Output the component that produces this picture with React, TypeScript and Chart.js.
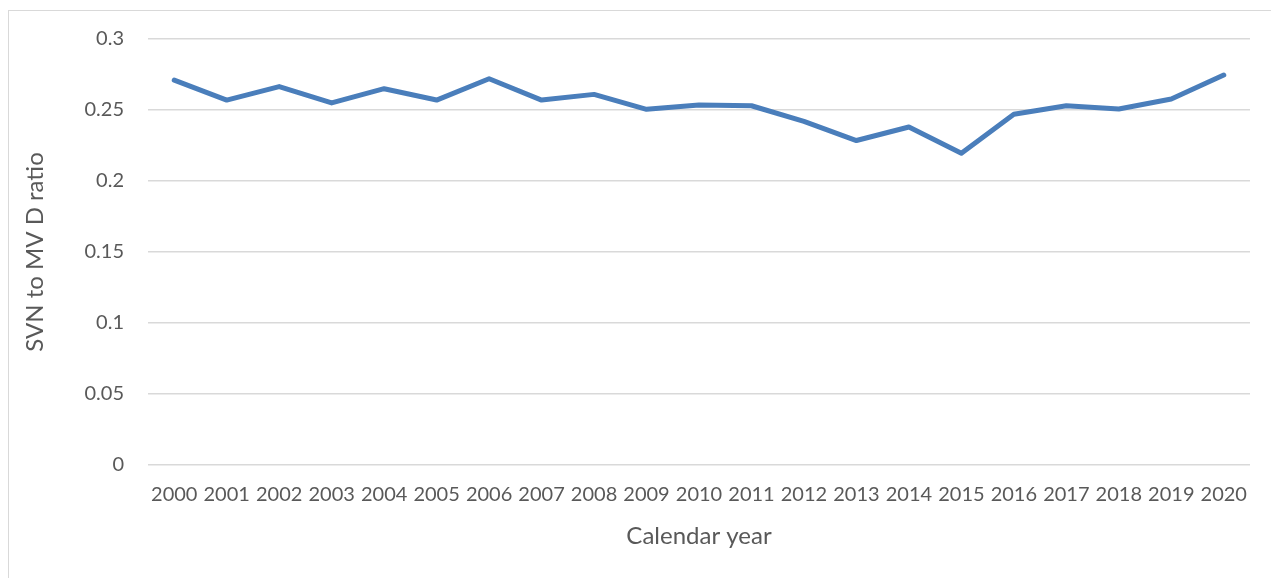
import React, { useEffect, useRef } from "react";
import { Chart, registerables } from "chart.js";

Chart.register(...registerables);

const years = [
  "2000", "2001", "2002", "2003", "2004", "2005", "2006", "2007", "2008", "2009", "2010",
  "2011", "2012", "2013", "2014", "2015", "2016", "2017", "2018", "2019", "2020",
];
const ratios = [
  0.271, 0.257, 0.2665, 0.255, 0.265, 0.257, 0.272, 0.257, 0.261, 0.2505, 0.2535,
  0.253, 0.242, 0.2285, 0.238, 0.2195, 0.247, 0.253, 0.2507, 0.2577, 0.2746,
];
const yTicks = [0, 0.05, 0.1, 0.15, 0.2, 0.25, 0.3];
const yTitle = "SVN to MV D ratio";
const xTitle = "Calendar year";

export default function App() {
  const ref = useRef<HTMLCanvasElement | null>(null);

  useEffect(() => {
    document.body.style.margin = "0";
    document.body.style.overflow = "hidden";
    const ctx = ref.current;
    if (!ctx) return;
    const font = "Lato, 'Open Sans', sans-serif";
    const chart = new Chart(ctx, {
      type: "line",
      data: {
        labels: years,
        datasets: [
          {
            data: ratios,
            borderColor: "#4a7ebb",
            borderWidth: 5,
            pointRadius: 0,
            tension: 0,
            fill: false,
            borderCapStyle: "round",
            borderJoinStyle: "round",
          },
        ],
      },
      options: {
        animation: false,
        responsive: false,
        maintainAspectRatio: false,
        layout: { padding: { top: 39, right: 21, left: 0, bottom: 0 } },
        plugins: { legend: { display: false }, tooltip: { enabled: false } },
        scales: {
          x: {
            offset: true,
            grid: { display: false, drawTicks: false },
            border: { display: false },
            ticks: {
              color: "#595959",
              font: { family: font, size: 20 },
              padding: 18,
              autoSkip: false,
              maxRotation: 0,
              minRotation: 0,
            },
            title: {
              display: true,
              text: xTitle,
              color: "#595959",
              font: { family: font, size: 24 },
              padding: { top: 0, bottom: 27 },
            },
            afterFit: (s: any) => {
              s.height = 113;
            },
          },
          y: {
            min: 0,
            max: 0.3,
            afterBuildTicks: (s: any) => {
              s.ticks = yTicks.map((v) => ({ value: v }));
            },
            grid: { color: "#d9d9d9", lineWidth: 1.5, drawTicks: false },
            border: { display: false },
            ticks: {
              color: "#595959",
              font: { family: font, size: 20 },
              padding: 24,
              callback: (v: any) => String(Number(v)),
            },
            title: {
              display: true,
              text: yTitle,
              color: "#595959",
              font: { family: font, size: 24 },
              padding: { top: 21, bottom: 0 },
            },
            afterFit: (s: any) => {
              s.width = 148;
            },
          },
        },
      },
    });
    return () => chart.destroy();
  }, []);

  return (
    <div style={{ position: "relative", width: 1271, height: 578, overflow: "hidden", background: "#fff" }}>
      <div
        style={{
          position: "absolute",
          left: 8,
          top: 10,
          width: 1300,
          height: 600,
          border: "1px solid #d9d9d9",
          boxSizing: "border-box",
        }}
      />
      <canvas ref={ref} width={1271} height={578} style={{ position: "absolute", left: 0, top: 0, display: "block" }} />
    </div>
  );
}
